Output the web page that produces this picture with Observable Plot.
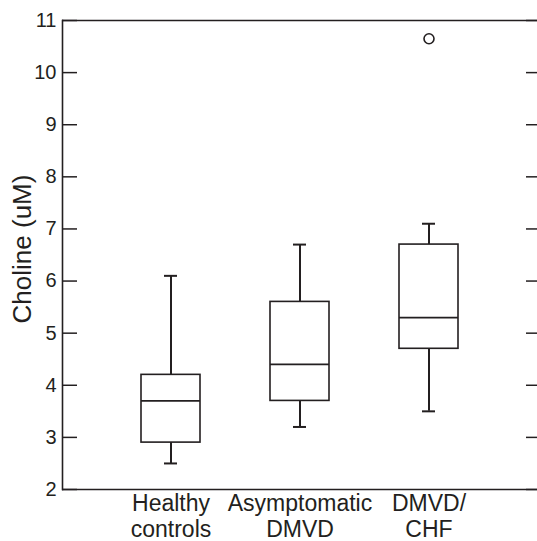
<!DOCTYPE html>
<html><head><meta charset="utf-8">
<script src="https://cdn.jsdelivr.net/npm/d3@7"></script>
<script src="https://cdn.jsdelivr.net/npm/@observablehq/plot@0.6"></script>
<style>
body{margin:0;background:#fff;font-family:"Liberation Sans",Arial,sans-serif;}
</style>
</head><body><div id="chart"></div>
<script>
// ---- data ----
const groups = ["Healthy controls", "Asymptomatic DMVD", "DMVD/ CHF"];
const groupLabels = ["Healthy\ncontrols", "Asymptomatic\nDMVD", "DMVD/\nCHF"];
const whiskerLow = [2.5, 3.2, 3.5];
const q1 = [2.9, 3.7, 4.7];
const median = [3.7, 4.4, 5.3];
const q3 = [4.2, 5.6, 6.7];
const whiskerHigh = [6.1, 6.7, 7.1];
const outlierGroups = ["DMVD/ CHF"];
const outlierValues = [10.65];
const yTicks = [2, 3, 4, 5, 6, 7, 8, 9, 10, 11];
const yLabel = "Choline (uM)";

const boxes = groups.map((g, i) => ({
  group: g, lo: whiskerLow[i], q1: q1[i], med: median[i], q3: q3[i], hi: whiskerHigh[i]
}));
const outliers = outlierGroups.map((g, i) => ({group: g, value: outlierValues[i]}));

const ink = "#231f20";

const chart = Plot.plot({
  width: 537,
  height: 541,
  marginTop: 20,
  marginBottom: 52,
  marginLeft: 62,
  marginRight: 0,
  style: {fontFamily: '"Liberation Sans", Arial, sans-serif', color: ink, background: "#fff"},
  x: {domain: groups, paddingInner: 0.546, paddingOuter: 0.6},
  y: {domain: [2, 11]},
  marks: [
    Plot.frame({anchor: "left", stroke: ink, strokeWidth: 1.6}),
    Plot.ruleY([yTicks[0], yTicks[yTicks.length - 1]], {stroke: ink, strokeWidth: 1.6}),
    // inward tick marks (left)
    Plot.axisY({ticks: yTicks, tickSize: 15, dx: 15, tickFormat: () => "", label: null, stroke: ink, strokeWidth: 1.5}),
    // left labels
    Plot.axisY({ticks: yTicks, tickSize: 0, tickPadding: 6, fontSize: 20, label: null}),
    // inward tick marks (right)
    Plot.axisY({anchor: "right", ticks: yTicks, tickSize: 12, dx: -12, tickFormat: () => "", label: null, stroke: ink, strokeWidth: 1.5}),
    Plot.axisX({tickSize: 0, tickPadding: 4, fontSize: 23, lineHeight: 1.1, label: null,
      tickFormat: (d) => groupLabels[groups.indexOf(d)]}),
    Plot.ruleX(boxes, {x: "group", y1: "lo", y2: "q1", stroke: ink, strokeWidth: 2}),
    Plot.ruleX(boxes, {x: "group", y1: "q3", y2: "hi", stroke: ink, strokeWidth: 2}),
    Plot.tickY(boxes, {x: "group", y: "lo", stroke: ink, strokeWidth: 2, insetLeft: 23, insetRight: 23}),
    Plot.tickY(boxes, {x: "group", y: "hi", stroke: ink, strokeWidth: 2, insetLeft: 23, insetRight: 23}),
    Plot.barY(boxes, {x: "group", y1: "q1", y2: "q3", fill: "white", stroke: ink, strokeWidth: 1.6}),
    Plot.tickY(boxes, {x: "group", y: "med", stroke: ink, strokeWidth: 1.8}),
    Plot.dot(outliers, {x: "group", y: "value", r: 5, stroke: ink, strokeWidth: 1.6, fill: "none"}),
    Plot.text([yLabel], {frameAnchor: "left", textAnchor: "middle", rotate: -90, dx: -40, dy: -6, fontSize: 26, fill: ink})
  ]
});
document.getElementById("chart").append(chart);
</script>
</body></html>
